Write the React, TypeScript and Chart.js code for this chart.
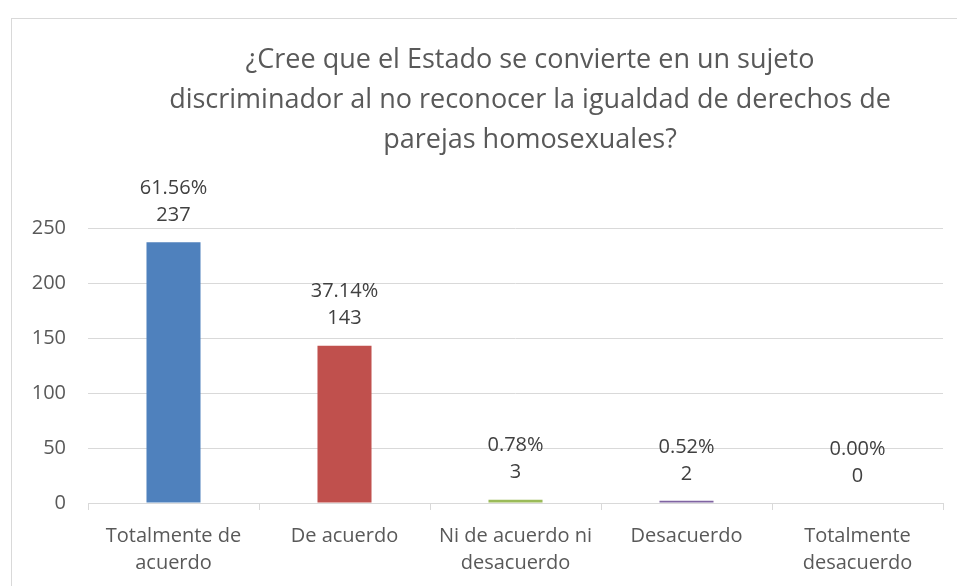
import React, { useEffect, useRef } from "react";
import { Chart, registerables } from "chart.js";

Chart.register(...registerables);

const categories: string[][] = [
  ["Totalmente de", "acuerdo"],
  ["De acuerdo"],
  ["Ni de acuerdo ni", "desacuerdo"],
  ["Desacuerdo"],
  ["Totalmente", "desacuerdo"],
];
const counts: number[] = [237, 143, 3, 2, 0];
const percentLabels: string[] = ["61.56%", "37.14%", "0.78%", "0.52%", "0.00%"];
const barColors: string[] = ["#4F81BD", "#C0504D", "#9BBB59", "#8064A2", "#4BACC6"];
const titleLines: string[] = [
  "¿Cree que el Estado se convierte en un sujeto",
  "discriminador al no reconocer la igualdad de derechos de",
  "parejas homosexuales?",
];
const yTicks: number[] = [0, 50, 100, 150, 200, 250];

const FONT = "'Open Sans', 'Noto Sans', sans-serif";
const TEXT = "#595959";

const labelPlugin = {
  id: "barLabels",
  afterDatasetsDraw(chart: any) {
    const ctx = chart.ctx;
    const meta = chart.getDatasetMeta(0);
    ctx.save();
    ctx.font = `20px ${FONT}`;
    ctx.fillStyle = "#404040";
    ctx.textAlign = "center";
    ctx.textBaseline = "middle";
    meta.data.forEach((bar: any, i: number) => {
      ctx.fillText(String(counts[i]), bar.x, bar.y - 27);
      ctx.fillText(percentLabels[i], bar.x, bar.y - 54);
    });
    ctx.restore();
  },
};

const titlePlugin = {
  id: "offsetTitle",
  afterDraw(chart: any) {
    const ctx = chart.ctx;
    ctx.save();
    ctx.font = `27px ${FONT}`;
    ctx.fillStyle = TEXT;
    ctx.textAlign = "center";
    ctx.textBaseline = "middle";
    titleLines.forEach((line, i) => {
      ctx.fillText(line, 530, 60 + i * 40);
    });
    ctx.restore();
  },
};

export default function App() {
  const ref = useRef<HTMLCanvasElement | null>(null);
  useEffect(() => {
    if (!ref.current) return;
    const chart = new Chart(ref.current, {
      type: "bar",
      data: {
        labels: categories,
        datasets: [
          {
            data: counts,
            backgroundColor: barColors,
            borderWidth: 0,
            categoryPercentage: 1,
            barPercentage: 0.316,
          },
        ],
      },
      options: {
        animation: false,
        responsive: false,
        layout: { padding: { left: 0, right: 14, top: 228, bottom: 0 } },
        plugins: {
          legend: { display: false },
          tooltip: { enabled: false },
          title: { display: false },
        },
        scales: {
          x: {
            grid: {
              offset: true,
              drawOnChartArea: false,
              drawTicks: true,
              tickLength: 7,
              color: "#D9D9D9",
            },
            border: { display: true, color: "#D9D9D9", width: 1 },
            ticks: {
              color: TEXT,
              font: { family: FONT, size: 20, lineHeight: 27 / 20 },
              padding: 13,
              maxRotation: 0,
              autoSkip: false,
            },
            afterFit: (s: any) => {
              s.height = 83;
            },
          },
          y: {
            min: 0,
            max: 250,
            afterBuildTicks: (s: any) => {
              s.ticks = yTicks.map((v) => ({ value: v }));
            },
            grid: { color: "#D9D9D9", drawTicks: false, tickLength: 0 },
            border: { display: false },
            ticks: {
              color: TEXT,
              font: { family: FONT, size: 20 },
              padding: 22,
            },
            afterFit: (s: any) => {
              s.width = 88;
            },
          },
        },
      },
      plugins: [labelPlugin, titlePlugin],
    });
    return () => chart.destroy();
  }, []);

  return (
    <div style={{ position: "absolute", left: 0, top: 0, width: 957, height: 586, overflow: "hidden", background: "#fff" }}>
      <div
        style={{
          position: "absolute",
          left: 11,
          top: 18,
          width: 1100,
          height: 800,
          border: "1px solid #D9D9D9",
          boxSizing: "border-box",
        }}
      />
      <canvas ref={ref} width={957} height={586} style={{ position: "absolute", left: 0, top: 0 }} />
    </div>
  );
}
